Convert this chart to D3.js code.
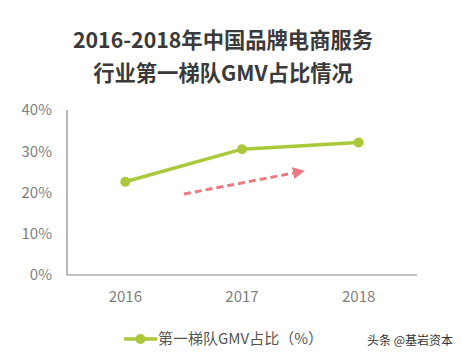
<!DOCTYPE html>
<html>
<head>
    <meta charset="utf-8">
    <title>第一梯队GMV占比</title>
    <script src="https://d3js.org/d3.v7.min.js"></script>
    <style>
        body { margin: 0; background: #fff; font-family: "Noto Sans CJK SC", "Open Sans", sans-serif; }
        .tick-label { font-size: 15px; fill: #7f7f7f; }
        .axis-line { stroke: #888; stroke-width: 1.2px; }
    </style>
</head>
<body>
    <div id="chart"></div>
    <script>
        const years = ["2016", "2017", "2018"];
        const share = [22.6, 30.5, 32.1];
        const yTicks = [0, 10, 20, 30, 40];
        const titleLines = ["2016-2018年中国品牌电商服务", "行业第一梯队GMV占比情况"];
        const legendLabel = "第一梯队GMV占比（%）";

        const width = 461, height = 361;
        const plot = { left: 67, right: 417, top: 110, bottom: 275 };
        const green = "#a9c93a";

        const svg = d3.select("#chart").append("svg")
            .attr("width", width).attr("height", height);

        // title
        svg.selectAll(".title")
            .data(titleLines)
            .enter().append("text")
            .attr("x", 223)
            .attr("y", (d, i) => 48 + i * 33)
            .attr("text-anchor", "middle")
            .style("font-size", "21.3px")
            .style("font-weight", "bold")
            .style("fill", "#3a3a3a")
            .text(d => d);

        const x = d3.scaleBand().domain(years).range([plot.left, plot.right]);
        const y = d3.scaleLinear().domain([0, 40]).range([plot.bottom, plot.top]);

        // y tick labels
        svg.selectAll(".ylab")
            .data(yTicks)
            .enter().append("text")
            .attr("class", "tick-label")
            .attr("x", 52)
            .attr("y", d => y(d))
            .attr("dy", "0.35em")
            .attr("text-anchor", "end")
            .text(d => d + "%");

        // x tick labels
        svg.selectAll(".xlab")
            .data(years)
            .enter().append("text")
            .attr("class", "tick-label")
            .attr("x", d => x(d) + x.bandwidth() / 2)
            .attr("y", 297)
            .attr("dy", "0.35em")
            .attr("text-anchor", "middle")
            .text(d => d);

        // axes
        svg.append("line").attr("class", "axis-line")
            .attr("x1", plot.left).attr("x2", plot.left)
            .attr("y1", y(40)).attr("y2", y(0));
        svg.append("line").attr("class", "axis-line")
            .attr("x1", plot.left).attr("x2", plot.right)
            .attr("y1", y(0)).attr("y2", y(0));

        // trend arrow
        svg.append("defs").append("marker")
            .attr("id", "head")
            .attr("viewBox", "0 0 10 10")
            .attr("refX", 5).attr("refY", 5)
            .attr("markerWidth", 4).attr("markerHeight", 4)
            .attr("orient", "auto")
            .append("path")
            .attr("d", "M0,0 L10,5 L0,10 Z")
            .attr("fill", "#ea7b80");
        svg.append("line")
            .attr("x1", 184).attr("y1", 194)
            .attr("x2", 299).attr("y2", 172)
            .attr("stroke", "#ea7b80")
            .attr("stroke-width", 3)
            .attr("stroke-dasharray", "7,4")
            .attr("marker-end", "url(#head)");

        // series
        const pts = years.map((d, i) => [x(d) + x.bandwidth() / 2, y(share[i])]);
        svg.append("path")
            .attr("d", d3.line()(pts))
            .attr("fill", "none")
            .attr("stroke", green)
            .attr("stroke-width", 3.5);
        svg.selectAll(".dot")
            .data(pts)
            .enter().append("circle")
            .attr("cx", d => d[0]).attr("cy", d => d[1])
            .attr("r", 5)
            .attr("fill", green);

        // legend
        const lg = svg.append("g");
        lg.append("line")
            .attr("x1", 124).attr("x2", 157)
            .attr("y1", 339).attr("y2", 339)
            .attr("stroke", green).attr("stroke-width", 3.5);
        lg.append("circle").attr("cx", 140.5).attr("cy", 339).attr("r", 5).attr("fill", green);
        lg.append("text")
            .attr("x", 158).attr("y", 339).attr("dy", "0.35em")
            .style("font-size", "15px").style("fill", "#555")
            .text(legendLabel);

        // watermark
        svg.append("text")
            .attr("x", 367).attr("y", 341).attr("dy", "0.35em")
            .style("font-size", "12px").style("fill", "#333")
            .text("头条 @基岩资本");
    </script>
</body>
</html>
